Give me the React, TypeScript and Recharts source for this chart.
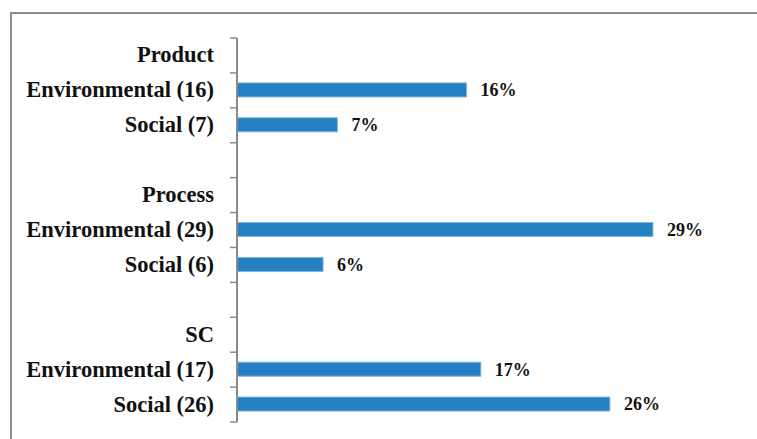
import React from "react";
import { BarChart, Bar, XAxis, YAxis, LabelList } from "recharts";

const categories = [
  "Product",
  "Environmental (16)",
  "Social (7)",
  "",
  "Process",
  "Environmental (29)",
  "Social (6)",
  "",
  "SC",
  "Environmental (17)",
  "Social (26)",
];
const shares: (number | null)[] = [null, 16, 7, null, null, 29, 6, null, null, 17, 26];

const data = categories.map((name, i) => ({ name, share: shares[i] }));

const FONT = '"Liberation Serif", "DejaVu Serif", serif';
const AXIS = "#8a8a8a";

function CategoryTick(props: any) {
  const { x, y, payload, index, visibleTicksCount } = props;
  const half = payload?.offset ?? 17.45;
  const last = index === (visibleTicksCount ?? categories.length) - 1;
  return (
    <g>
      <line x1={x + 1} x2={x + 8} y1={y - half} y2={y - half} stroke={AXIS} strokeWidth={1.5} />
      {last && (
        <line x1={x + 1} x2={x + 8} y1={y + half} y2={y + half} stroke={AXIS} strokeWidth={1.5} />
      )}
      <text
        x={x - 15}
        y={y}
        dy={7}
        textAnchor="end"
        style={{ fontFamily: FONT, fontWeight: 700, fontSize: 22.5, fill: "#111" }}
      >
        {payload.value}
      </text>
    </g>
  );
}

export default function App() {
  return (
    <div style={{ position: "absolute", left: 0, top: 0, width: 757, height: 439, background: "#fff", overflow: "hidden" }}>
      <div
        style={{
          position: "absolute",
          left: 10,
          top: 12,
          width: 760,
          height: 440,
          borderTop: "2px solid #8c8c8c",
          borderLeft: "2px solid #8c8c8c",
        }}
      />
      <BarChart
        width={757}
        height={439}
        data={data}
        layout="vertical"
        margin={{ top: 38, right: 18, bottom: 17, left: 10 }}
        style={{ position: "absolute", left: 0, top: 0 }}
      >
        <XAxis type="number" domain={[0, 35]} hide />
        <YAxis
          type="category"
          dataKey="name"
          width={227}
          axisLine={{ stroke: AXIS, strokeWidth: 2 }}
          tickLine={false}
          tick={<CategoryTick />}
          interval={0}
        />
        <Bar
          dataKey="share"
          fill="#2381c3"
          stroke="#7fb3dc"
          strokeWidth={1}
          barSize={14}
          isAnimationActive={false}
        >
          <LabelList
            dataKey="share"
            position="right"
            offset={14}
            formatter={(v: any) => (v == null ? "" : `${v}%`)}
            style={{ fontFamily: FONT, fontWeight: 700, fontSize: 18, fill: "#111" }}
          />
        </Bar>
      </BarChart>
    </div>
  );
}
